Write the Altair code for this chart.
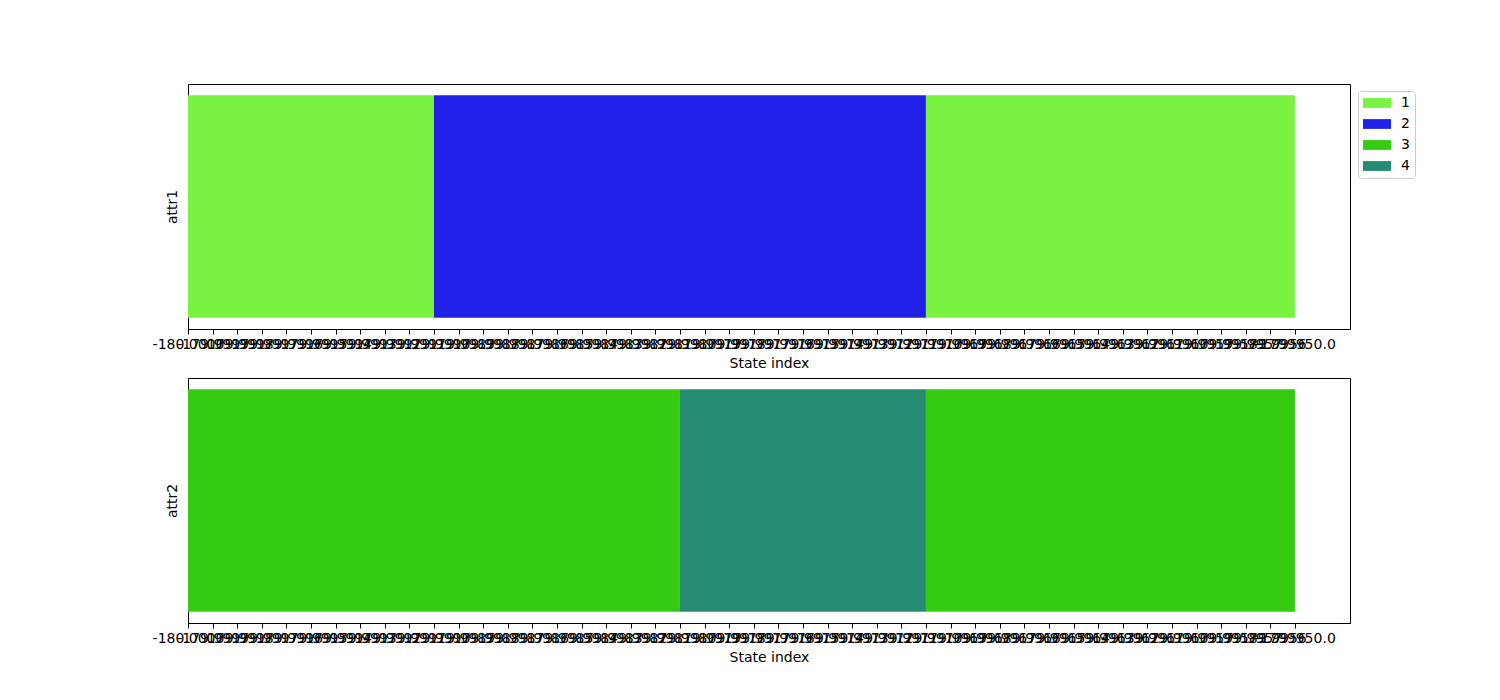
import altair as alt
import pandas as pd

# segments (state index ranges) and values
attr1_start = [0, 10, 30]
attr1_end = [10, 30, 45]
attr1_value = ["1", "2", "1"]

attr2_start = [0, 20, 30]
attr2_end = [20, 30, 45]
attr2_value = ["3", "4", "3"]

legend_values = ["1", "2", "3", "4"]
legend_colors = ["#79f241", "#2121e9", "#34cb10", "#268c71"]

tick_positions = list(range(46))
tick_labels = [
    "-180.0000", "-179.9999", "-179.9998", "-179.9997", "-179.9996", "-179.9995",
    "-179.9994", "-179.9993", "-179.9992", "-179.9991", "-179.9990", "-179.9989",
    "-179.9988", "-179.9987", "-179.9986", "-179.9985", "-179.9984", "-179.9983",
    "-179.9982", "-179.9981", "-179.9980", "-179.9979", "-179.9978", "-179.9977",
    "-179.9976", "-179.9975", "-179.9974", "-179.9973", "-179.9972", "-179.9971",
    "-179.9970", "-179.9969", "-179.9968", "-179.9967", "-179.9966", "-179.9965",
    "-179.9964", "-179.9963", "-179.9962", "-179.9961", "-179.9960", "-179.9959",
    "-179.9958", "-179.9957", "-179.9956", "-1799950.0",
]

label_js = "[" + ",".join("'" + s + "'" for s in tick_labels) + "][datum.value]"

FONT = "DejaVu Sans"
W, H = 1162, 245

color_scale = alt.Scale(domain=legend_values, range=legend_colors)


def panel(starts, ends, values, name, show_legend):
    df = pd.DataFrame({"start": starts, "end": ends, "value": values,
                       "y0": [0.0] * len(starts), "y1": [1.0] * len(starts)})
    if show_legend:
        color = alt.Color("value:N", scale=color_scale, legend=alt.Legend(
            title=None, orient="none", legendX=W + 8, legendY=7,
            symbolType="M-1,-0.7L3,-0.7L3,0.7L-1,0.7Z", symbolSize=196,
            symbolStrokeWidth=0, labelFont=FONT, labelFontSize=14,
            labelColor="black", strokeColor="#cccccc", cornerRadius=3,
            padding=5, fillColor="white", rowPadding=7, labelOffset=24,
            values=legend_values,
        ))
    else:
        color = alt.Color("value:N", scale=color_scale, legend=None)
    return alt.Chart(df).mark_bar(opacity=1, strokeWidth=0).encode(
        x=alt.X("start:Q", scale=alt.Scale(domain=[0, 47.24], nice=False, zero=False),
                axis=alt.Axis(values=tick_positions, labelExpr=label_js,
                              title="State index", labelOverlap=False,
                              labelFlush=False, grid=False)),
        x2="end:Q",
        y=alt.Y("y0:Q", scale=alt.Scale(domain=[-0.05, 1.05], nice=False, zero=False),
                axis=alt.Axis(title=name, labels=False, ticks=False, grid=False,
                              domain=False, titlePadding=9)),
        y2="y1:Q",
        color=color,
    ).properties(width=W, height=H)


top = panel(attr1_start, attr1_end, attr1_value, "attr1", True)
bottom = panel(attr2_start, attr2_end, attr2_value, "attr2", False)

chart = alt.vconcat(top, bottom, spacing=6).resolve_scale(color="shared").properties(
    padding={"left": 151, "top": 83, "right": 5, "bottom": 5},
    background="white",
).configure_view(
    stroke="black", strokeWidth=1,
).configure_axis(
    labelFont=FONT, titleFont=FONT, labelFontSize=14, titleFontSize=14,
    labelColor="black", titleColor="black", titleFontWeight="normal",
    domainColor="black", tickColor="black", tickSize=5, labelPadding=3,
    titlePadding=5,
)

chart.save("out.html", embed_options={"renderer": "svg", "actions": False})
